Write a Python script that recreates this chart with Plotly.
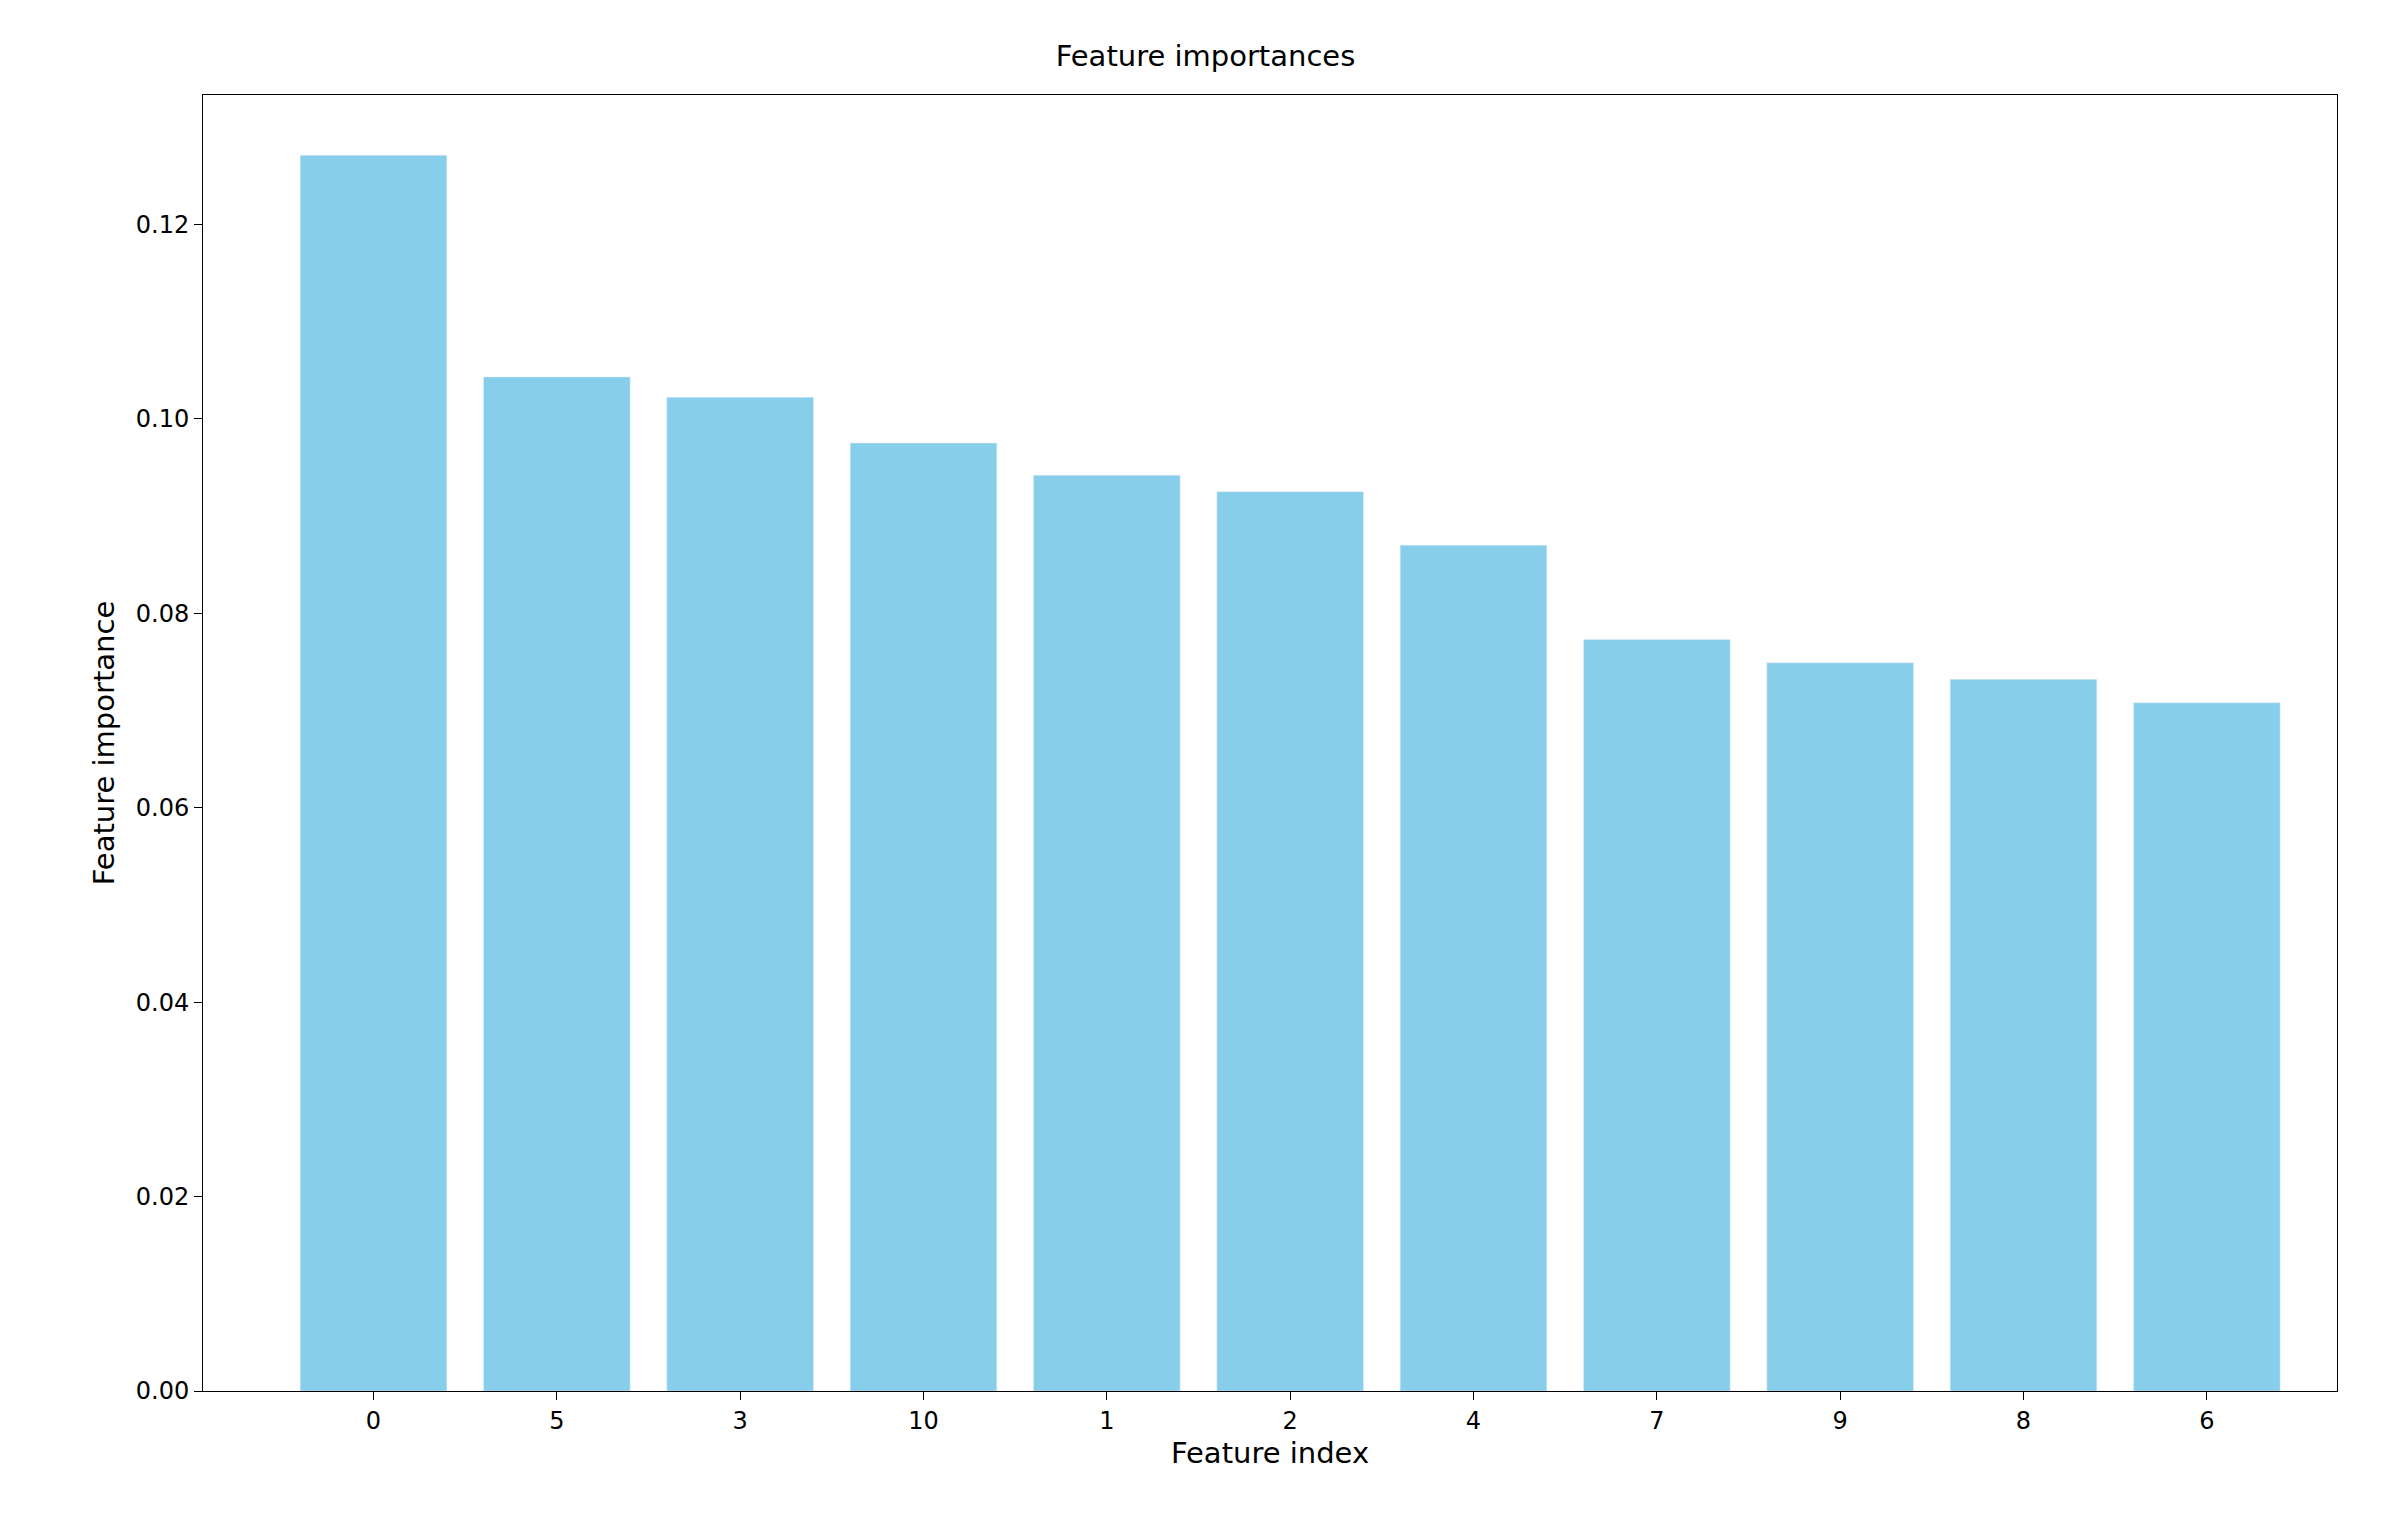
import plotly.graph_objects as go

features = ["0", "5", "3", "10", "1", "2", "4", "7", "9", "8", "6"]
importances = [0.1271, 0.1043, 0.1022, 0.0975, 0.0942, 0.0925, 0.0870, 0.0773, 0.0749, 0.0732, 0.0708]
yticks = [0.0, 0.02, 0.04, 0.06, 0.08, 0.10, 0.12]

fig = go.Figure(go.Bar(x=features, y=importances, marker_color="#87CEEB", width=0.8))
fig.update_layout(
    width=2395, height=1522, plot_bgcolor="white", paper_bgcolor="white",
    margin=dict(l=195, r=66, t=87, b=139),
    font=dict(family="DejaVu Sans", size=24, color="black"),
    title=dict(text="Feature importances", x=0.5, xanchor="center", y=0.975, font=dict(size=29)),
    bargap=0.2,
)
fig.update_xaxes(type="category", range=[-0.93, 10.71], showline=True, linecolor="black", mirror=True,
                 ticks="outside", ticklen=8, tickcolor="black", title=dict(text="Feature index", standoff=8))
fig.update_yaxes(range=[0, 0.1333], tickvals=yticks, tickformat=".2f", showgrid=False, zeroline=False,
                 showline=True, linecolor="black", mirror=True, ticks="outside", ticklen=8, tickcolor="black",
                 title=dict(text="Feature importance", standoff=12))
fig.write_html("out.html")
